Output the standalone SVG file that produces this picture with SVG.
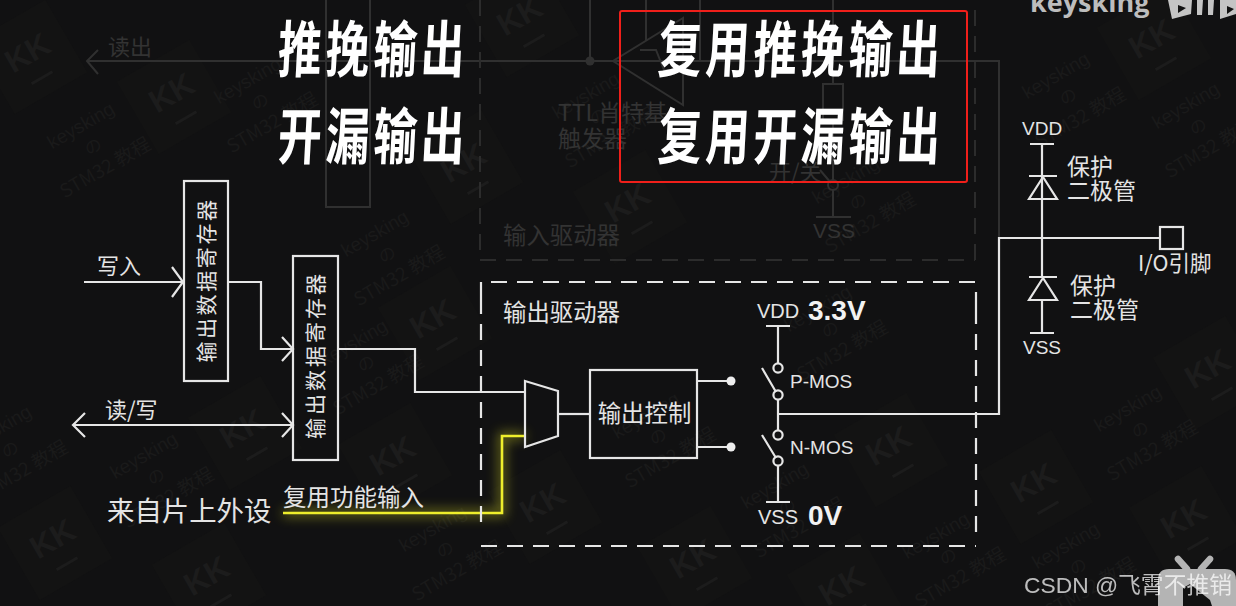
<svg xmlns="http://www.w3.org/2000/svg" width="1236" height="606" viewBox="0 0 1236 606">
<style>
text{font-family:"Noto Sans CJK SC","Noto Sans",sans-serif;fill:#e4e4e4}
.lat{font-family:"Liberation Sans",Arial,sans-serif;fill:#e4e4e4}
.w{fill:none;stroke:#e6e6e6;stroke-width:2.2}
.d{fill:none;stroke:#e6e6e6;stroke-width:2.2;stroke-dasharray:16 10}
.f{fill:none;stroke:#303030;stroke-width:2}
.fd{fill:none;stroke:#2c2c2c;stroke-width:2;stroke-dasharray:16 10}
.ft{fill:#333}
.title{font-size:55px;font-weight:700;fill:#fff;letter-spacing:5px}
.v{font-size:21px;letter-spacing:2.6px;text-anchor:middle}
.wm{fill:#1a1a1a}
</style>
<defs>
<filter id="glow" x="-20%" y="-40%" width="140%" height="180%"><feGaussianBlur stdDeviation="6"/></filter>
<g id="kk"><rect x="-42" y="-42" width="84" height="84" fill="#131313"/><text x="0" y="6" text-anchor="middle" style="font-family:'Liberation Sans',sans-serif;font-weight:700;font-size:32px;fill:#1c1c1c">KK</text><path d="M-12 24H12" stroke="#1c1c1c" stroke-width="3"/></g>
<g id="mark"><text class="wm" y="-22" text-anchor="middle" style="font-family:'Liberation Sans',sans-serif;font-size:19px">keysking</text><text class="wm" y="2" text-anchor="middle" style="font-size:17px">の</text><text class="wm" y="27" text-anchor="middle" style="font-size:19px">STM32 教程</text></g>
</defs>
<rect width="1236" height="606" fill="#111112"/>

<g id="watermarks">
<use href="#kk" transform="translate(30,57) rotate(-30)"/><use href="#kk" transform="translate(174,97) rotate(-30)"/><use href="#kk" transform="translate(522,20) rotate(-30)"/><use href="#kk" transform="translate(466,167) rotate(-30)"/><use href="#kk" transform="translate(630,207) rotate(-30)"/><use href="#kk" transform="translate(1154,43) rotate(-30)"/><use href="#kk" transform="translate(435,323) rotate(-30)"/><use href="#kk" transform="translate(245,433) rotate(-30)"/><use href="#kk" transform="translate(395,460) rotate(-30)"/><use href="#kk" transform="translate(545,507) rotate(-30)"/><use href="#kk" transform="translate(55,543) rotate(-30)"/><use href="#kk" transform="translate(209,580) rotate(-30)"/><use href="#kk" transform="translate(695,563) rotate(-30)"/><use href="#kk" transform="translate(844,590) rotate(-30)"/><use href="#kk" transform="translate(891,450) rotate(-30)"/><use href="#kk" transform="translate(1036,487) rotate(-30)"/><use href="#kk" transform="translate(1186,523) rotate(-30)"/><use href="#kk" transform="translate(1210,373) rotate(-30)"/>
<use href="#mark" transform="translate(95,150) rotate(-30)"/><use href="#mark" transform="translate(389,258) rotate(-30)"/><use href="#mark" transform="translate(262,105) rotate(-30)"/><use href="#mark" transform="translate(12,453) rotate(-30)"/><use href="#mark" transform="translate(158,480) rotate(-30)"/><use href="#mark" transform="translate(368,367) rotate(-30)"/><use href="#mark" transform="translate(447,553) rotate(-30)"/><use href="#mark" transform="translate(600,120) rotate(-30)"/><use href="#mark" transform="translate(1142,433) rotate(-30)"/><use href="#mark" transform="translate(832,333) rotate(-30)"/><use href="#mark" transform="translate(660,440) rotate(-30)"/><use href="#mark" transform="translate(789,510) rotate(-30)"/><use href="#mark" transform="translate(1070,100) rotate(-30)"/><use href="#mark" transform="translate(1200,130) rotate(-30)"/><use href="#mark" transform="translate(860,205) rotate(-30)"/><use href="#mark" transform="translate(1080,570) rotate(-30)"/><use href="#mark" transform="translate(950,560) rotate(-30)"/>
</g>

<g id="faded-input-path">
<path class="f" d="M999 238V61H87"/><path class="f" d="M98 50L87 61L98 74"/>
<rect class="f" x="326" y="-2" width="44" height="209"/>
<path class="f" d="M590 0V61"/><circle cx="590" cy="61" r="4.500" fill="#303030"/>
<path class="f" d="M683 18L613 61L683 105Z"/>
<path class="f" d="M646 0V40M700 0V61M833 0V84M833 120V180M833 190V217M816 217H851M820 170L831 183M640 50H656L664 70H676"/>
<rect class="f" x="823" y="84" width="20" height="36"/>
<circle class="f" cx="833" cy="185" r="5"/>
<path class="fd" d="M480 0V250M480 260H975M975 260V0"/>
<text class="ft" x="558" y="121" style="font-size:23px">TTL肖特基</text>
<text class="ft" x="558" y="147" style="font-size:23px">触发器</text>
<text class="ft" x="503" y="244" style="font-size:23.400px">输入驱动器</text>
<text class="ft" x="769" y="180" style="font-size:22px">开/关</text>
<text class="ft" x="813" y="238" style="font-family:'Liberation Sans',sans-serif;font-size:21px">VSS</text>
<text class="ft" x="108" y="55" style="font-size:22px">读出</text>
</g>

<g id="connectors">
<path class="w" d="M84 282H183"/><path class="w" d="M172 267L183 282L172 297"/>
<path class="w" d="M228 282H261V349H293"/><path class="w" d="M282 337L293 349L282 361"/>
<path class="w" d="M73 425H293"/><path class="w" d="M85 413L73 425L85 437"/><path class="w" d="M282 413L293 425L282 437"/>
<path class="w" d="M338 349H415V392H525"/>
<path class="w" d="M558 414H590"/>
<path d="M283 513H502V436H525" fill="none" stroke="#d8d820" stroke-width="7" opacity=".5" filter="url(#glow)"/>
<path d="M283 513H502V436H525" fill="none" stroke="#eeee2c" stroke-width="2.600"/>
<path class="w" d="M697 381H731M697 447H731"/>
<path class="w" d="M778 326V363M778 400V430M778 466V502"/>
<path class="w" d="M778 414H999V238H1160"/>
<path class="w" d="M1042 144V277M1042 300V333"/>
</g>

<g id="output-driver-frame"><path class="d" d="M481 298V282H976M976 308V282M976 308V532M481 298V532M481 546H976"/></g>

<g id="reg1"><rect class="w" x="184" y="181" width="44" height="200"/><text class="v" transform="translate(214,280) rotate(-90)">输出数据寄存器</text></g>
<g id="reg2"><rect class="w" x="293" y="256" width="45" height="204"/><text class="v" transform="translate(323,355) rotate(-90)" style="letter-spacing:3px">输出数据寄存器</text></g>
<g id="mux"><path class="w" d="M525 381L558 391V436L525 447Z"/></g>
<g id="control"><rect class="w" x="590" y="370" width="107" height="88"/><text x="644.500" y="422" text-anchor="middle" style="font-size:23.400px">输出控制</text></g>
<g id="p-mos">
<circle cx="731" cy="381" r="4.500" fill="#eee"/><circle class="w" cx="778" cy="368" r="4.600"/><circle class="w" cx="778" cy="395" r="4.600"/>
<path class="w" d="M762 368L776 392M766 326H790"/>
<text class="lat" x="790" y="387.500" style="font-size:19px">P-MOS</text>
<text class="lat" x="757" y="318" style="font-size:20px">VDD</text>
<text class="lat" x="808" y="320" style="font-size:28px;font-weight:700;fill:#f2f2f2">3.3V</text>
</g>
<g id="n-mos">
<circle cx="731" cy="447" r="4.500" fill="#eee"/><circle class="w" cx="778" cy="435" r="4.600"/><circle class="w" cx="778" cy="461" r="4.600"/>
<path class="w" d="M762 435L776 458M766 502H790"/>
<text class="lat" x="790" y="453.500" style="font-size:19px">N-MOS</text>
<text class="lat" x="758" y="524" style="font-size:20px">VSS</text>
<text class="lat" x="808" y="525" style="font-size:28px;font-weight:700;fill:#f2f2f2">0V</text>
</g>
<g id="diode-top">
<path class="w" d="M1030 144H1054M1029 176H1057M1043 177L1029 199H1057Z"/>
<text class="lat" x="1022" y="135" style="font-size:19px">VDD</text>
<text x="1067" y="175" style="font-size:23px">保护</text><text x="1067" y="199" style="font-size:23px">二极管</text>
</g>
<g id="diode-bottom">
<path class="w" d="M1029 277H1057M1043 278L1029 300H1057ZM1030 333H1054"/>
<text class="lat" x="1023" y="354" style="font-size:19px">VSS</text>
<text x="1070" y="294" style="font-size:23px">保护</text><text x="1070" y="318" style="font-size:23px">二极管</text>
</g>
<g id="pin"><rect class="w" x="1160" y="227" width="23" height="22"/><text x="1138" y="271" style="font-size:21.500px">I/O引脚</text></g>

<g id="labels">
<text x="97" y="274" style="font-size:22px">写入</text>
<text x="105" y="418" style="font-size:22px">读/写</text>
<text x="107" y="521" style="font-size:27.400px">来自片上外设</text>
<text x="283" y="506" style="font-size:23.500px">复用功能输入</text>
<text x="503" y="321" style="font-size:23.400px">输出驱动器</text>
</g>

<g id="titles">
<rect x="620" y="11" width="347" height="171" rx="2" fill="none" stroke="#f01f1a" stroke-width="2"/>
<text class="title" transform="translate(277,71.500) skewX(-3) scale(.795,1.12)">推挽输出</text>
<text class="title" transform="translate(277,158.500) skewX(-3) scale(.795,1.12)">开漏输出</text>
<text class="title" transform="translate(657,71.500) skewX(-3) scale(.795,1.12)">复用推挽输出</text>
<text class="title" transform="translate(657,158.500) skewX(-3) scale(.795,1.12)">复用开漏输出</text>
</g>

<g id="branding">
<text x="1030" y="12" style="font-family:'Open Sans',sans-serif;font-size:27px;font-weight:700;fill:#bdbdbd">keysking</text>
<path fill-rule="evenodd" fill="#c4c4c4" d="M1168 0H1192L1191 14L1172 19ZM1178 5L1178 13L1186 8Z"/>
<path fill="#c4c4c4" d="M1197 0H1203L1202 15L1197 15ZM1208 0H1214L1213 15H1208ZM1220 0H1236V14L1220 19Z"/>
<path fill="#111" d="M1227 6V14L1234 9Z"/>
<path d="M1158 606V580Q1158 569 1169 569H1225Q1236 569 1236 580V606Z" fill="#b4b4b4"/>
<path d="M1178 559L1187 569M1210 559L1201 569" stroke="#b4b4b4" stroke-width="6.500" stroke-linecap="round"/>
<path d="M1183 606V588L1190 584L1210 600L1212 606Z" fill="#111"/>
<text x="1024" y="593" style="font-family:'Liberation Sans','Noto Sans CJK SC',sans-serif;font-size:22.800px;fill:#fff;opacity:.72">CSDN @飞霄不推销</text>
</g>
</svg>
